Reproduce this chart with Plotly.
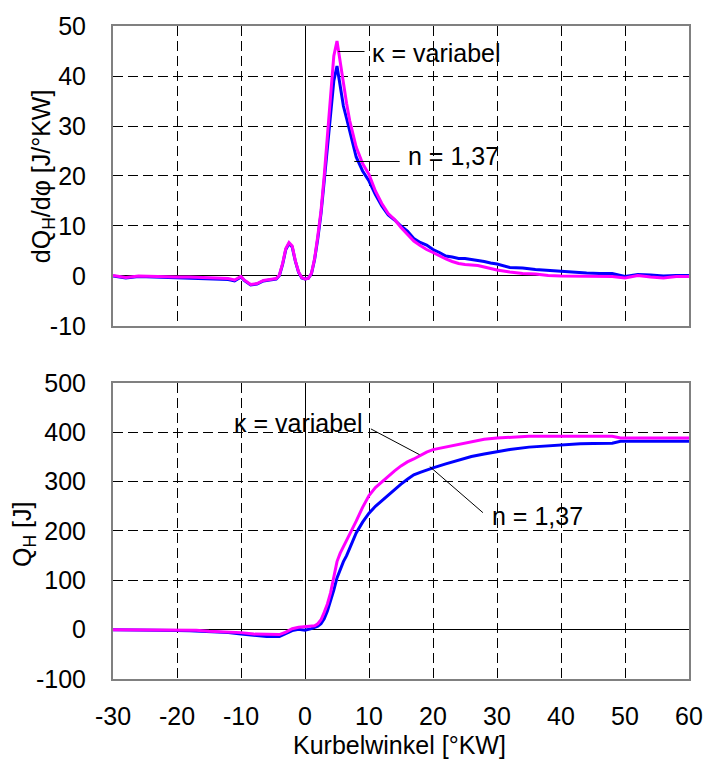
import plotly.graph_objects as go
from plotly.subplots import make_subplots

# ---- data: top chart (heat release rate dQH/dphi) ----
x_top = [-30, -28, -26, -24, -22, -20, -18, -16, -14, -12, -11, -10, -9.5, -8.5, -7.5,
         -6.5, -5.5, -4.5, -4, -3.5, -3, -2.5, -2, -1.5, -1, -0.5, 0, 0.5, 1, 1.5, 2, 2.5,
         3, 3.5, 4, 4.5, 5, 5.5, 6, 6.5, 7, 8, 9, 10, 11, 12, 13, 14, 15, 16, 17, 18, 19,
         20, 21, 22, 23, 24, 25, 26, 27, 28, 29, 30, 32, 34, 36, 38, 40, 42, 44, 46, 48,
         50, 52, 54, 56, 58, 60]
dq_kappa = [0.1, -0.3, 0.0, -0.1, -0.2, -0.2, -0.2, -0.3, -0.5, -0.5, -0.8, -0.1, -0.8,
            -1.7, -1.5, -0.9, -0.7, -0.5, 0.2, 2.5, 5.5, 6.7, 6.0, 3.0, 0.8, -0.3, -0.6,
            -0.5, 0.5, 3.5, 8.0, 13.0, 20.0, 28.0, 37.0, 44.0, 47.0, 42.5, 38.0, 34.5,
            31.0, 25.8, 22.5, 20.3, 17.0, 14.5, 12.5, 11.3, 9.7, 8.3, 7.0, 6.1, 5.3, 4.7,
            4.0, 3.4, 2.9, 2.5, 2.3, 2.2, 2.1, 1.8, 1.5, 1.2, 0.8, 0.5, 0.4, 0.1, 0.0, 0.0,
            0.0, -0.1, -0.1, -0.4, 0.1, -0.2, -0.4, -0.1, -0.1]
dq_n = [0.0, -0.4, -0.1, -0.2, -0.3, -0.3, -0.4, -0.5, -0.7, -0.7, -1.0, -0.2, -0.9,
        -1.8, -1.6, -1.0, -0.8, -0.6, 0.1, 2.3, 5.3, 6.5, 5.8, 2.9, 0.7, -0.4, -0.6,
        -0.5, 0.4, 3.3, 7.5, 12.5, 19.0, 26.0, 33.0, 39.0, 42.0, 37.5, 34.0, 31.5, 29.0,
        23.8, 21.0, 19.0, 16.3, 14.0, 12.2, 11.2, 10.0, 9.0, 7.5, 6.7, 6.2, 5.3, 4.7,
        4.0, 3.8, 3.5, 3.5, 3.3, 3.2, 2.9, 2.6, 2.4, 1.7, 1.6, 1.3, 1.1, 0.9, 0.8, 0.6,
        0.5, 0.5, -0.1, 0.3, 0.2, 0.0, 0.1, 0.1]

# ---- data: bottom chart (cumulative heat release QH) ----
x_bot = [-30, -25, -22, -20, -18, -17, -15, -12, -10, -8, -6, -4, -3, -2, -1, 0, 1, 1.5,
         2, 2.5, 3, 3.5, 4, 4.5, 5, 5.5, 6, 6.5, 7, 8, 9, 10, 11, 12, 13, 14, 15, 16, 17,
         18, 19, 20, 22, 24, 26, 28, 30, 32, 35, 38, 40, 43, 45, 48, 49.3, 50, 55, 60]
q_kappa = [0, 0, 0, 0, -0.5, -1, -3, -4, -6, -9, -10, -10, -5, 2, 5, 6.5, 6.5, 8, 12,
           20, 35, 52, 75, 105, 138, 155, 168, 180, 192, 220, 248, 272, 288, 300, 312,
           322, 332, 340, 346, 353, 360, 365, 370, 376, 381, 386, 388.5, 390, 392, 392,
           392, 392, 392, 392, 388.5, 388.5, 388.5, 388.5]
q_n = [0, 0, -1, -1.5, -2, -2.5, -4, -6, -9, -12, -14, -14, -8, -2, 1, -1, 2, 4, 7, 12,
       22, 38, 58, 80, 105, 122, 138, 150, 165, 196, 218, 236, 250, 261, 273, 285, 295,
       305, 314, 319, 324, 328, 336, 344, 351, 356, 361, 365, 370, 373, 375.5, 377, 377.5,
       378, 382, 382, 382, 382]

x_ticks = [-30, -20, -10, 0, 10, 20, 30, 40, 50, 60]
x_ticktext = ["-30", "-20", "-10", "0", "10", "20", "30", "40", "50", "60"]
top_ticks = [-10, 0, 10, 20, 30, 40, 50]
top_ticktext = ["-10", "0", "10", "20", "30", "40", "50"]
bot_ticks = [-100, 0, 100, 200, 300, 400, 500]
bot_ticktext = ["-100", "0", "100", "200", "300", "400", "500"]

BLUE = "#0000FF"
MAGENTA = "#FF00FF"
FONT = "Liberation Sans, Arial, sans-serif"

fig = make_subplots(rows=2, cols=1, shared_xaxes=False, vertical_spacing=0.0)

fig.add_trace(go.Scatter(x=x_top, y=dq_n, mode="lines", line=dict(color=BLUE, width=3),
                         showlegend=False), row=1, col=1)
fig.add_trace(go.Scatter(x=x_top, y=dq_kappa, mode="lines", line=dict(color=MAGENTA, width=3),
                         showlegend=False), row=1, col=1)
fig.add_trace(go.Scatter(x=x_bot, y=q_n, mode="lines", line=dict(color=BLUE, width=3),
                         showlegend=False), row=2, col=1)
fig.add_trace(go.Scatter(x=x_bot, y=q_kappa, mode="lines", line=dict(color=MAGENTA, width=3),
                         showlegend=False), row=2, col=1)

common_x = dict(range=[-30, 60], tickvals=x_ticks, ticktext=x_ticktext, showgrid=True,
                gridcolor="black", gridwidth=1, griddash="10px,5px", zeroline=True,
                zerolinecolor="black", zerolinewidth=1, showline=True, mirror=True,
                linecolor="#808080", linewidth=2, ticks="", automargin=False,
                tickfont=dict(family=FONT, size=25, color="black"))
common_y = dict(showgrid=True, gridcolor="black", gridwidth=1, griddash="10px,5px",
                zeroline=True, zerolinecolor="black", zerolinewidth=1, showline=True,
                mirror=True, linecolor="#808080", linewidth=2, ticks="", automargin=False,
                ticklabelstandoff=20, tickfont=dict(family=FONT, size=25, color="black"))

fig.update_layout(
    width=705, height=760,
    margin=dict(l=113, r=16, t=26, b=81, autoexpand=False),
    paper_bgcolor="white", plot_bgcolor="white",
    font=dict(family=FONT, size=25, color="black"),
    xaxis=dict(common_x, showticklabels=False, domain=[0, 1]),
    xaxis2=dict(common_x, showticklabels=True, ticklabelstandoff=14, domain=[0, 1]),
    yaxis=dict(common_y, range=[-10, 50], tickvals=top_ticks, ticktext=top_ticktext,
               domain=[0.5406, 1]),
    yaxis2=dict(common_y, range=[-100, 500], tickvals=bot_ticks, ticktext=bot_ticktext,
                domain=[0, 0.4533]),
)

# leader lines
line_style = dict(color="black", width=1)
fig.add_shape(type="line", xref="x", yref="y", x0=5.2, y0=44.9, x1=9.3, y1=44.9, line=line_style)
fig.add_shape(type="line", xref="x", yref="y", x0=7.7, y0=22.9, x1=14.8, y1=22.9, line=line_style)
fig.add_shape(type="line", xref="x2", yref="y2", x0=10.3, y0=406.9, x1=17.9, y1=354.7, line=line_style)
fig.add_shape(type="line", xref="x2", yref="y2", x0=19.5, y0=330.4, x1=27.8, y1=237.2, line=line_style)

ann_font = dict(family=FONT, size=25, color="black")
fig.add_annotation(xref="x", yref="y", x=10.2, y=44.6, text="κ = variabel", showarrow=False,
                   xanchor="left", yanchor="middle", font=ann_font)
fig.add_annotation(xref="x", yref="y", x=15.8, y=23.9, text="n = 1,37", showarrow=False,
                   xanchor="left", yanchor="middle", font=ann_font)
fig.add_annotation(xref="x2", yref="y2", x=9.3, y=419, text="κ = variabel", showarrow=False,
                   xanchor="right", yanchor="middle", font=ann_font)
fig.add_annotation(xref="x2", yref="y2", x=28.9, y=229.7, text="n = 1,37", showarrow=False,
                   xanchor="left", yanchor="middle", font=ann_font)

# axis titles
fig.add_annotation(xref="paper", yref="paper", x=-0.1215, y=0.770,
                   text="dQ<sub>H</sub>/dφ [J/°KW]", textangle=-90, showarrow=False,
                   xanchor="center", yanchor="middle", font=ann_font)
fig.add_annotation(xref="paper", yref="paper", x=-0.1545, y=0.2205,
                   text="Q<sub>H</sub> [J]", textangle=-90, showarrow=False,
                   xanchor="center", yanchor="middle", font=ann_font)
fig.add_annotation(xref="paper", yref="paper", x=0.498, y=-0.101,
                   text="Kurbelwinkel [°KW]", showarrow=False,
                   xanchor="center", yanchor="middle", font=ann_font)

fig.write_html("out.html", config={"displayModeBar": False},
               post_script="document.body.style.margin='0';document.body.style.padding='0';"
                           "document.body.style.overflow='hidden';")
